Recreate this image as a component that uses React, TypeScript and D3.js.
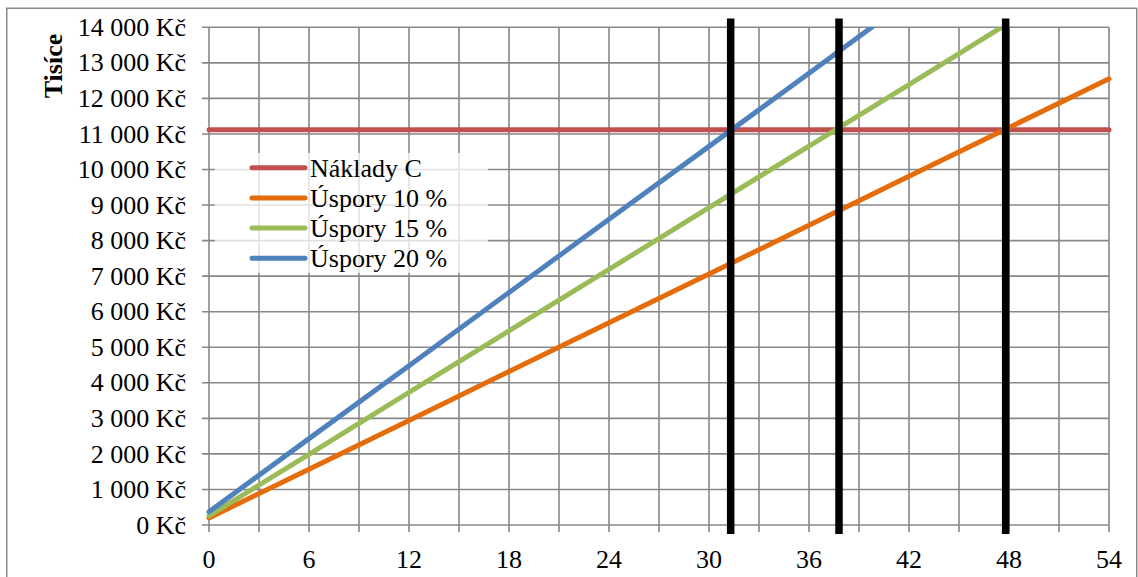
import React from "react";
import * as d3 from "d3";

// ---- data ----
const months = [0, 6, 12, 18, 24, 30, 36, 42, 48, 54];
const costsC = [11120, 11120, 11120, 11120, 11120, 11120, 11120, 11120, 11120, 11120];
const savings10 = [200, 1570, 2940, 4320, 5690, 7060, 8430, 9810, 11180, 12550];
const savings15 = [260, 1990, 3730, 5460, 7190, 8930, 10660, 12390, 14130, 15860];
const savings20 = [370, 2430, 4480, 6540, 8600, 10650, 12710, 14770, 16820, 18880];
const breakEvenMonths = [31.3, 37.8, 47.8];
const breakEvenRange = [-250, 14250];
const xTicks = [0, 6, 12, 18, 24, 30, 36, 42, 48, 54];
const yTicks = [0, 1000, 2000, 3000, 4000, 5000, 6000, 7000, 8000, 9000, 10000, 11000, 12000, 13000, 14000];
const seriesNames = ["Náklady C", "Úspory 10 %", "Úspory 15 %", "Úspory 20 %"];
const seriesColors = ["#C0504D", "#E46C0A", "#9BBB59", "#4F81BD"];
const yTitle = "Tisíce";

const W = 1138;
const H = 577;
const FONT = "'Liberation Serif', 'Times New Roman', serif";

export default function App() {
  const x = d3.scaleLinear().domain([0, 54]).range([209, 1109]);
  const y = d3.scaleLinear().domain([0, 14000]).range([525, 27.3]);
  const seriesValues = [costsC, savings10, savings15, savings20];
  const line = d3
    .line<[number, number]>()
    .x((d) => x(d[0]))
    .y((d) => y(d[1]));
  const gridX = d3.range(0, 54 + 0.001, 3);
  const grid = "#878787";
  const fmt = (v: number) => {
    const s = String(v).replace(/\B(?=(\d{3})+(?!\d))/g, " ");
    return `${s} Kč`;
  };

  return (
    <svg
      width={W}
      height={H}
      style={{ position: "absolute", left: 0, top: 0, background: "#fff" }}
      fontFamily={FONT}
    >
      <defs>
        <clipPath id="plotClip">
          <rect x={0} y={y(14000)} width={W} height={H} />
        </clipPath>
      </defs>
      <rect x={0} y={0} width={W} height={H} fill="#fff" />
      <rect x={6.75} y={8.25} width={1130} height={700} fill="none" stroke="#8a8a8a" strokeWidth={1.5} />

      {/* gridlines */}
      {gridX.map((m) => (
        <line key={"gx" + m} x1={x(m)} x2={x(m)} y1={y(14000)} y2={y(0) + 7} stroke={grid} strokeWidth={1.6} />
      ))}
      {yTicks.map((v) => (
        <line key={"gy" + v} x1={x(0) - 7} x2={x(54)} y1={y(v)} y2={y(v)} stroke={grid} strokeWidth={1.6} />
      ))}

      {/* y labels */}
      {yTicks.map((v) => (
        <text key={"yl" + v} x={186} y={y(v) + 8.6} textAnchor="end" fontSize={26} fill="#000">
          {fmt(v)}
        </text>
      ))}
      {/* x labels */}
      {xTicks.map((m) => (
        <text key={"xl" + m} x={x(m)} y={567.7} textAnchor="middle" fontSize={26} fill="#000">
          {m}
        </text>
      ))}
      <text
        transform={`translate(62,66) rotate(-90)`}
        textAnchor="middle"
        fontSize={26}
        fontWeight="bold"
        fill="#000"
      >
        {yTitle}
      </text>

      {/* series */}
      <g clipPath="url(#plotClip)">
        {seriesValues.map((vals, i) => (
          <path
            key={"s" + i}
            d={line(months.map((m, j) => [m, vals[j]] as [number, number])) || ""}
            fill="none"
            stroke={seriesColors[i]}
            strokeWidth={5}
            strokeLinecap="round"
            strokeLinejoin="round"
          />
        ))}
      </g>

      {/* break-even lines */}
      {breakEvenMonths.map((m) => (
        <line
          key={"be" + m}
          x1={x(m)}
          x2={x(m)}
          y1={y(breakEvenRange[0])}
          y2={y(breakEvenRange[1])}
          stroke="#000"
          strokeWidth={7.5}
        />
      ))}

      {/* legend */}
      <rect x={215} y={153} width={273} height={120} fill="#fff" fillOpacity={0.75} />
      {seriesNames.map((n, i) => {
        const ly = 167.7 + i * 30.2;
        return (
          <g key={"lg" + i}>
            <line x1={252} x2={305} y1={ly} y2={ly} stroke={seriesColors[i]} strokeWidth={5} strokeLinecap="round" />
            <text x={310} y={ly + 9} fontSize={26} fill="#000">
              {n}
            </text>
          </g>
        );
      })}
    </svg>
  );
}
